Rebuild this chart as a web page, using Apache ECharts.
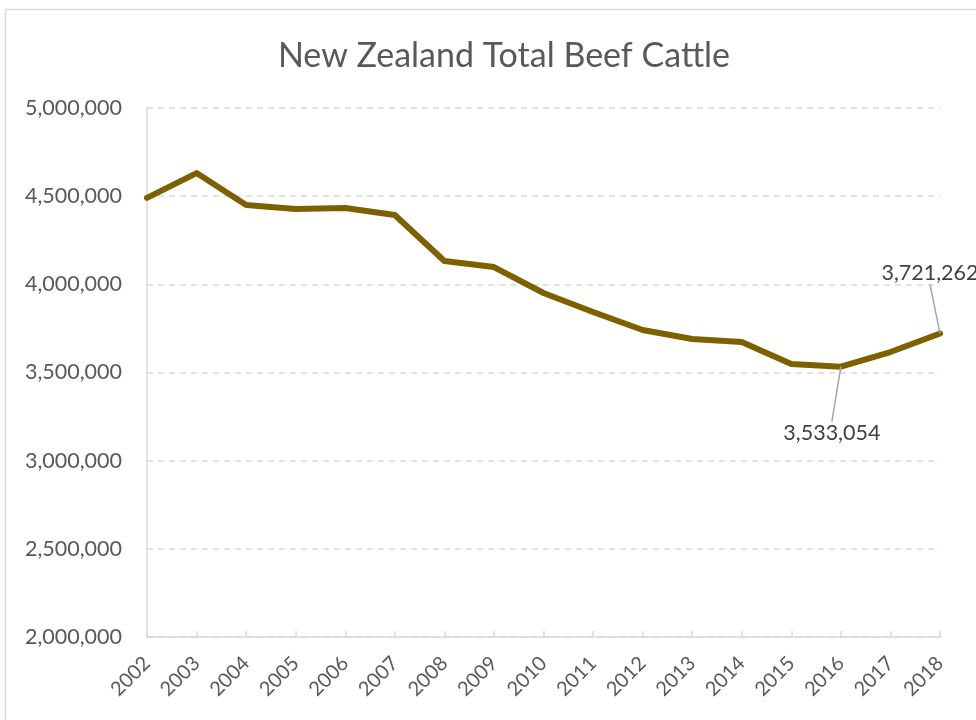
<!DOCTYPE html>
<html><head><meta charset="utf-8">
<script src="https://cdn.jsdelivr.net/npm/echarts@6/dist/echarts.min.js"></script>
<style>html,body{margin:0;padding:0;background:#fff}#c{width:976px;height:720px}</style>
</head><body><div id="c"></div>
<script>
const years = ['2002','2003','2004','2005','2006','2007','2008','2009','2010','2011','2012','2013','2014','2015','2016','2017','2018'];
const cattle = [4490000,4631000,4450000,4427000,4433000,4393000,4132000,4098000,3951000,3843000,3741000,3690000,3673000,3548000,3533054,3616000,3721262];
const labelled = {14: {dx: -9, dy: 66}, 16: {dx: -10, dy: -60}};
const yTicks = {min: 2000000, max: 5000000, interval: 500000};
const fmt = v => v.toLocaleString('en-US');
const FONT = 'Lato';
const chart = echarts.init(document.getElementById('c'));
chart.setOption({
  animation: false,
  textStyle: {fontFamily: FONT},
  graphic: [{type: 'rect', shape: {x: 5.5, y: 9.5, width: 1200, height: 1200}, style: {fill: 'none', stroke: '#d9d9d9', lineWidth: 1.5}, silent: true}],
  title: {text: 'New Zealand Total Beef Cattle', left: 499, top: 34, textAlign: 'center',
    textStyle: {fontFamily: FONT, fontSize: 34, fontWeight: 'normal', color: '#595959'}},
  grid: {left: 147, right: 36, top: 108, bottom: 83, containLabel: false},
  xAxis: {type: 'category', data: years, boundaryGap: false,
    axisLine: {lineStyle: {color: '#d9d9d9', width: 1.5}},
    axisTick: {show: true, inside: true, length: 6, alignWithLabel: true, lineStyle: {color: '#d9d9d9', width: 1.5}},
    axisLabel: {rotate: 45, fontSize: 20, color: '#595959', margin: 23, interval: 0}},
  yAxis: {type: 'value', min: yTicks.min, max: yTicks.max, interval: yTicks.interval,
    axisLine: {show: true, lineStyle: {color: '#d9d9d9', width: 1.5}},
    axisTick: {show: false},
    axisLabel: {fontSize: 21.5, color: '#595959', margin: 25, formatter: fmt},
    splitLine: {lineStyle: {color: '#d9d9d9', type: [6, 5], width: 1.5}}},
  series: [{type: 'line', data: cattle.map((v, i) => labelled[i] ? {value: v, label: {show: true}} : v),
    symbol: 'circle', symbolSize: 0.1, showSymbol: true,
    lineStyle: {color: '#7f6000', width: 6, join: 'round', cap: 'round'},
    itemStyle: {color: '#7f6000'},
    label: {show: false, formatter: p => fmt(p.value), fontSize: 21.5, color: '#404040', position: 'inside'},
    labelLine: {show: true, lineStyle: {color: '#a6a6a6', width: 1.5}},
    labelLayout: p => labelled[p.dataIndex] ? {dx: labelled[p.dataIndex].dx, dy: labelled[p.dataIndex].dy} : {},
  }]
});
</script></body></html>
